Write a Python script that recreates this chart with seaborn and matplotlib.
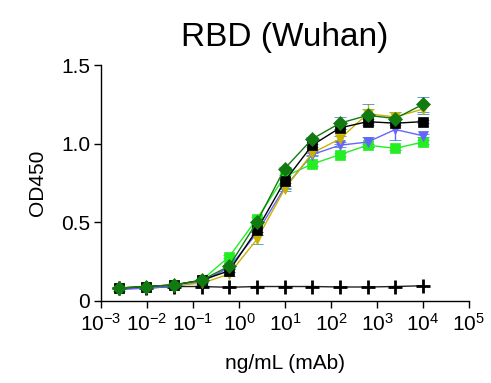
import numpy as np
import pandas as pd
import matplotlib
matplotlib.use("Agg")
import matplotlib.pyplot as plt
import seaborn as sns

# ---- data ----
conc = [0.0024, 0.0095, 0.038, 0.153, 0.61, 2.44, 9.77, 39.1, 156.0, 625.0, 2500.0, 10000.0]
series_names = ["mAb1", "mAb2", "mAb3", "mAb4", "mAb5"]
control_name = "control"
od_green = [0.08, 0.09, 0.10, 0.13, 0.28, 0.52, 0.79, 0.87, 0.93, 0.99, 0.97, 1.01]
od_blue = [0.07, 0.08, 0.09, 0.12, 0.21, 0.43, 0.72, 0.93, 0.99, 1.01, 1.09, 1.05]
od_yellow = [0.08, 0.09, 0.10, 0.11, 0.17, 0.39, 0.71, 0.94, 1.03, 1.19, 1.17, 1.22]
od_black = [0.08, 0.09, 0.10, 0.13, 0.19, 0.45, 0.76, 0.99, 1.10, 1.14, 1.13, 1.14]
od_dkgreen = [0.08, 0.09, 0.10, 0.13, 0.22, 0.50, 0.84, 1.03, 1.13, 1.18, 1.16, 1.25]
od_ctrl = [0.08, 0.08, 0.09, 0.09, 0.085, 0.09, 0.09, 0.09, 0.087, 0.087, 0.09, 0.095]

err_green = [0.005, 0.005, 0.005, 0.01, 0.01, 0.01, 0.01, 0.01, 0.01, 0.01, 0.01, 0.01]
err_blue = [0.01, 0.005, 0.005, 0.01, 0.01, 0.01, 0.01, 0.01, 0.01, 0.03, 0.07, 0.01]
err_yellow = [0.005, 0.005, 0.005, 0.01, 0.01, 0.03, 0.01, 0.01, 0.02, 0.06, 0.03, 0.03]
err_black = [0.005, 0.005, 0.005, 0.01, 0.01, 0.01, 0.01, 0.01, 0.01, 0.02, 0.01, 0.01]
err_dkgreen = [0.005, 0.005, 0.005, 0.01, 0.01, 0.01, 0.01, 0.01, 0.04, 0.04, 0.01, 0.05]

xtick_vals = [1e-3, 1e-2, 1e-1, 1e0, 1e1, 1e2, 1e3, 1e4, 1e5]
xtick_labels = ["10$^{-3}$", "10$^{-2}$", "10$^{-1}$", "10$^{0}$", "10$^{1}$",
                "10$^{2}$", "10$^{3}$", "10$^{4}$", "10$^{5}$"]
ytick_vals = [0, 0.5, 1.0, 1.5]
ytick_labels = ["0", "0.5", "1.0", "1.5"]

values = [od_green, od_blue, od_yellow, od_black, od_dkgreen]
errors = [err_green, err_blue, err_yellow, err_black, err_dkgreen]
colors = ["#22ee22", "#6464ff", "#c8b400", "#000000", "#117a11"]
markers = ["s", "v", "v", "s", "D"]

rows = []
for name, vals in zip(series_names, values):
    for c, v in zip(conc, vals):
        rows.append({"conc": c, "od": v, "mAb": name})
df = pd.DataFrame(rows)
df_ctrl = pd.DataFrame({"conc": conc, "od": od_ctrl, "mAb": control_name})

# ---- styling ----
sns.set_style("ticks")
plt.rcParams["font.family"] = ["Liberation Sans", "DejaVu Sans"]
plt.rcParams["mathtext.fontset"] = "custom"
plt.rcParams["mathtext.rm"] = "Liberation Sans"
plt.rcParams["mathtext.it"] = "Liberation Sans"
plt.rcParams["mathtext.default"] = "regular"
plt.rcParams["text.color"] = "black"
plt.rcParams["axes.labelcolor"] = "black"
plt.rcParams["xtick.color"] = "black"
plt.rcParams["ytick.color"] = "black"
plt.rcParams["axes.edgecolor"] = "black"

fig = plt.figure(figsize=(4.91, 3.83), dpi=100)
ax = fig.add_axes([0.206, 0.215, 0.749, 0.615])

# control line
sns.lineplot(data=df_ctrl, x="conc", y="od", color="#222222", marker="+",
             markersize=10, markeredgewidth=2.0, markeredgecolor="black",
             linewidth=1.0, legend=False, ax=ax, zorder=2)

# error bars
for vals, errs, col in zip(values, errors, colors):
    ax.errorbar(conc, vals, yerr=errs, fmt="none", ecolor=col, elinewidth=1.0,
                capsize=4, capthick=1.0, zorder=2)

palette = dict(zip(series_names, colors))
marker_map = dict(zip(series_names, markers))
sns.lineplot(data=df, x="conc", y="od", hue="mAb", style="mAb",
             palette=palette, markers=marker_map, dashes=False,
             markersize=7, linewidth=1.0,
             legend=False, ax=ax, zorder=3)

for line in ax.get_lines():
    if line.get_marker() not in ("+", "None", None, ""):
        line.set_markeredgecolor(line.get_color())
        line.set_markerfacecolor(line.get_color())
        line.set_markeredgewidth(0.5)

ax.set_xscale("log")
ax.set_xlim(1e-3, 1e5)
ax.set_ylim(0, 1.5)
ax.set_xticks(xtick_vals)
ax.set_xticklabels(xtick_labels)
ax.xaxis.set_minor_locator(matplotlib.ticker.NullLocator())
ax.set_yticks(ytick_vals)
ax.set_yticklabels(ytick_labels)
ax.tick_params(axis="both", labelsize=15, length=5, width=1.0, direction="out", pad=3)
ax.tick_params(axis="x", pad=4)
for s in ["left", "bottom"]:
    ax.spines[s].set_linewidth(1.0)
sns.despine(ax=ax)

ax.set_xlabel("ng/mL (mAb)", fontsize=15, labelpad=14)
ax.set_ylabel("OD450", fontsize=15, labelpad=10)
ax.set_title("RBD (Wuhan)", fontsize=24, pad=14)

fig.savefig("out.png", dpi=100)
